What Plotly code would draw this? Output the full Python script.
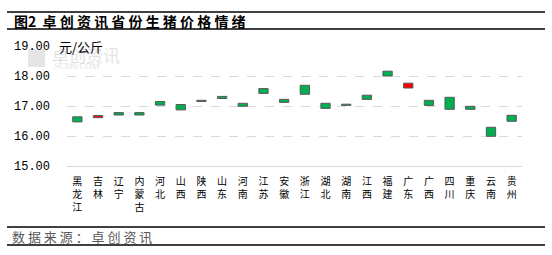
import plotly.graph_objects as go

provinces = ["黑龙江", "吉林", "辽宁", "内蒙古", "河北", "山西", "陕西", "山东", "河南", "江苏", "安徽",
             "浙江", "湖北", "湖南", "江西", "福建", "广东", "广西", "四川", "重庆", "云南", "贵州"]
open_price = [16.64, 16.61, 16.78, 16.78, 17.15, 17.05, 17.19, 17.32, 17.09, 17.58, 17.22,
              17.69, 17.09, 17.06, 17.36, 18.16, 17.60, 17.19, 17.29, 16.99, 16.29, 16.69]
close_price = [16.47, 16.68, 16.70, 16.70, 17.03, 16.87, 17.15, 17.25, 16.99, 17.42, 17.12,
               17.39, 16.92, 17.02, 17.22, 18.00, 17.76, 17.02, 16.89, 16.89, 15.99, 16.49]
y_ticks = [15, 16, 17, 18, 19]

W, H = 552, 255
L, R, T, B = 67, 30, 46, 89
pw = W - L - R
ph = H - T - B

def px_x(x):
    return (x - L) / pw

def px_y(y):
    return 1 - (y - T) / ph

bases = [min(o, c) for o, c in zip(open_price, close_price)]
heights = [abs(c - o) for o, c in zip(open_price, close_price)]
colors = ["#FF0000" if c > o else "#00B050" for o, c in zip(open_price, close_price)]
labels = ["<br>".join(list(p)) for p in provinces]

fig = go.Figure()
fig.add_trace(go.Bar(
    x=provinces, y=heights, base=bases, width=0.45,
    marker=dict(color=colors, line=dict(color="#595959", width=1)),
    hoverinfo="skip",
))

fig.update_layout(
    width=W, height=H,
    margin=dict(l=L, r=R, t=T, b=B, pad=0),
    paper_bgcolor="white", plot_bgcolor="white",
    showlegend=False,
    font=dict(family="Noto Sans CJK SC, sans-serif", color="black"),
    xaxis=dict(
        type="category", tickmode="array", tickvals=provinces, ticktext=labels,
        tickfont=dict(size=10, color="black"), showgrid=False,
        showline=True, linecolor="#d9d9d9", linewidth=1, ticks="",
        ticklabelstandoff=6,
    ),
    yaxis=dict(
        range=[15, 19], tickvals=y_ticks, tickformat=".2f",
        tickfont=dict(size=12, color="black", family="Liberation Mono, monospace"),
        showgrid=True, gridcolor="#d9d9d9", griddash="dash", gridwidth=1,
        zeroline=False, showline=False, ticks="", ticklabelstandoff=16,
    ),
)

shapes = []
for yy, w in [(12, 1.5), (29, 1.5), (227, 1.5), (245, 1.5)]:
    shapes.append(dict(type="line", xref="paper", yref="paper",
                       x0=px_x(7), x1=px_x(545), y0=px_y(yy), y1=px_y(yy),
                       line=dict(color="black", width=w)))
fig.update_layout(shapes=shapes)

anns = [
    dict(text="<b>图2  卓 创 资 讯 省 份 生 猪 价 格 情 绪</b>", x=px_x(12), y=px_y(21),
         xanchor="left", yanchor="middle", font=dict(size=14, color="black")),
    dict(text="数 据 来 源 ： 卓 创 资 讯", x=px_x(10), y=px_y(236),
         xanchor="left", yanchor="middle", font=dict(size=13, color="#595959")),
    dict(text="卓创资讯", x=px_x(50), y=px_y(54), xanchor="left", yanchor="middle",
         font=dict(size=17, color="rgba(170,170,170,0.35)")),
    dict(text="SCI99.COM", x=px_x(52), y=px_y(66), xanchor="left", yanchor="middle",
         font=dict(size=9, color="rgba(170,170,170,0.4)", family="Liberation Serif")),
    dict(text="元/公斤", x=px_x(57), y=px_y(46), xanchor="left", yanchor="middle",
         font=dict(size=13, color="black")),
]
for a in anns:
    a.update(xref="paper", yref="paper", showarrow=False)
fig.update_layout(annotations=anns)
fig.add_shape(type="rect", xref="paper", yref="paper", x0=px_x(28), x1=px_x(45),
              y0=px_y(67), y1=px_y(49), fillcolor="rgba(170,170,170,0.3)", line=dict(width=0),
              layer="below")

fig.write_html("out.html")
